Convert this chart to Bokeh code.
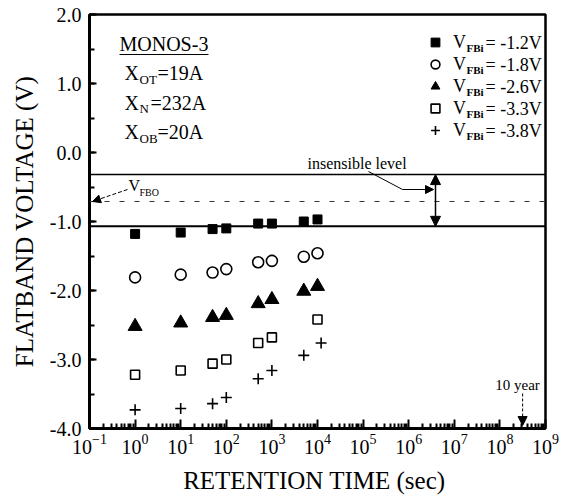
from bokeh.plotting import figure
from bokeh.models import (FixedTicker, LogTickFormatter, NumeralTickFormatter,
                          Span, Label, Arrow, NormalHead, Legend, LegendItem)
from bokeh.embed import file_html
from bokeh.resources import INLINE

# ---------------- data ----------------
time_s = [1, 10, 50, 100, 500, 1000, 5000, 10000]
vfb_m12 = [-1.18, -1.16, -1.11, -1.10, -1.03, -1.03, -1.00, -0.97]
vfb_m18 = [-1.81, -1.77, -1.74, -1.69, -1.59, -1.57, -1.51, -1.46]
vfb_m26 = [-2.52, -2.47, -2.39, -2.36, -2.19, -2.13, -2.01, -1.94]
time_s_m33 = [1, 10, 50, 100, 500, 1000, 10000]
vfb_m33 = [-3.22, -3.16, -3.06, -3.00, -2.76, -2.68, -2.42]
time_s_m38 = [1, 10, 50, 100, 500, 1000, 5000, 12000]
vfb_m38 = [-3.73, -3.71, -3.64, -3.55, -3.28, -3.16, -2.94, -2.76]

legend_values = ["-1.2V", "-1.8V", "-2.6V", "-3.3V", "-3.8V"]
y_ticks = [-4, -3, -2, -1, 0, 1, 2]
y_minor = [-4, -3.5, -3, -2.5, -2, -1.5, -1, -0.5, 0, 0.5, 1, 1.5, 2]
x_decades = list(range(-1, 10))

insensible_upper = -0.32
vfbo_level = -0.71
insensible_lower = -1.07
ten_years_s = 3.15e8

# ---------------- geometry ----------------
W, H = 572, 497
FL, FR, FT, FB = 89, 545, 14, 428
FONT = "Liberation Serif"


def xd(px):
    return 10 ** (-1 + (px - FL) * 10.0 / (FR - FL))


def yd(py):
    return 2 - (py - FT) * 6.0 / (FB - FT)


p = figure(width=W, height=H, x_axis_type="log", x_range=(0.1, 1e9), y_range=(-4, 2),
           output_backend="svg", toolbar_location=None,
           min_border_left=FL, min_border_right=W - FR, min_border_top=FT,
           min_border_bottom=H - FB)
p.xgrid.visible = False
p.ygrid.visible = False
p.outline_line_color = "black"
p.outline_line_width = 2.5
p.background_fill_color = "white"
p.border_fill_color = "white"

# axes
p.xaxis.ticker = FixedTicker(ticks=[10.0 ** k for k in x_decades],
                             minor_ticks=[m * 10.0 ** k for k in x_decades[:-1] for m in range(2, 10)])
p.xaxis.formatter = LogTickFormatter()
p.xaxis.axis_label = "RETENTION TIME  (sec)"
p.yaxis.ticker = FixedTicker(ticks=y_ticks, minor_ticks=y_minor)
p.yaxis.formatter = NumeralTickFormatter(format="0.0")
p.yaxis.axis_label = "FLATBAND VOLTAGE (V)"

for ax in (p.xaxis[0], p.yaxis[0]):
    ax.axis_line_width = 3
    ax.axis_line_color = "black"
    ax.major_tick_out = 0
    ax.minor_tick_out = 0
    ax.major_tick_line_width = 2
    ax.minor_tick_line_width = 2
    ax.major_tick_line_color = "black"
    ax.minor_tick_line_color = "black"
    ax.major_label_text_font = FONT
    ax.major_label_text_color = "black"
    ax.axis_label_text_font = FONT
    ax.axis_label_text_font_size = "25px"
    ax.axis_label_text_font_style = "normal"
    ax.axis_label_text_color = "black"

p.xaxis.major_label_text_font_size = "20px"
p.yaxis.major_label_text_font_size = "20px"
p.xaxis.major_tick_in = 9
p.xaxis.minor_tick_in = 5
p.xaxis.major_label_standoff = 5
p.xaxis.axis_label_standoff = 10
p.yaxis.major_tick_in = 7
p.yaxis.minor_tick_in = 5
p.yaxis.major_label_standoff = 8
p.yaxis.axis_label_standoff = 9

# ---------------- reference levels ----------------
p.add_layout(Span(location=insensible_upper, dimension="width", line_color="black", line_width=1.5))
p.add_layout(Span(location=insensible_lower, dimension="width", line_color="black", line_width=2))
p.add_layout(Span(location=vfbo_level, dimension="width", line_color="#333333", line_width=1,
                  line_dash="5 10"))

# ---------------- data markers ----------------
r1 = p.scatter(time_s, vfb_m12, marker="square", size=9, fill_color="black", line_color="black")
r2 = p.scatter(time_s, vfb_m18, marker="circle", size=11, fill_color="white", line_color="black",
               line_width=1.6)
r3 = p.scatter(time_s, vfb_m26, marker="triangle", size=14, fill_color="black", line_color="black")
r4 = p.scatter(time_s_m33, vfb_m33, marker="square", size=9, fill_color="white", line_color="black",
               line_width=1.6)
r5 = p.scatter(time_s_m38, vfb_m38, marker="cross", size=11, line_color="black", line_width=1.6)

# ---------------- legend ----------------
rows = [r1, r2, r3, r4, r5]
legend = Legend(items=[LegendItem(label="V", renderers=[r]) for r in rows],
                location=(424 - FL, FB - (31 + 22 * 5)),
                glyph_width=22, glyph_height=22, label_height=22, label_width=10,
                label_standoff=7, spacing=0, padding=0, margin=0,
                border_line_alpha=0, background_fill_alpha=0,
                label_text_font=FONT, label_text_font_size="18px", label_text_color="black",
                label_text_baseline="middle")
p.add_layout(legend)

row_y = [42 + 22 * i for i in range(5)]
for py, val in zip(row_y, legend_values):
    p.add_layout(Label(x=xd(466), y=yd(py + 5), text="FBi", text_font=FONT, text_font_size="11px",
                       text_font_style="bold", text_color="black",
                       text_baseline="middle", text_align="left"))
    p.add_layout(Label(x=xd(485), y=yd(py), text="= " + val, text_font=FONT, text_font_size="18px",
                       text_color="black", text_baseline="middle", text_align="left"))


# ---------------- sample text block ----------------
def lab(px, py, text, size, **kw):
    p.add_layout(Label(x=xd(px), y=yd(py), text=text, text_font=FONT, text_font_size=size,
                       text_color="black", text_baseline="middle", text_align="left", **kw))


lab(119, 43, "MONOS-3", "20px")
p.line([xd(119), xd(208)], [yd(54), yd(54)], line_color="black", line_width=1.2)
for py, sub, rest, sx in [(72.5, "OT", "=19A", 157), (102, "N", "=232A", 150), (131.5, "OB", "=20A", 157)]:
    lab(124, py, "X", "20px")
    lab(139, py + 6, sub, "13px")
    lab(sx, py, rest, "20px")

# ---------------- annotations ----------------
lab(307, 163, "insensible  level", "16px")
p.line([xd(368), xd(402)], [yd(171), yd(189)], line_color="black", line_width=1)
p.add_layout(Arrow(x_start=xd(402), y_start=yd(189), x_end=xd(433), y_end=yd(189),
                   end=NormalHead(size=8, fill_color="black", line_color="black"),
                   line_color="black", line_width=1.2))
p.add_layout(Arrow(x_start=xd(435), y_start=insensible_upper, x_end=xd(435), y_end=insensible_lower,
                   start=NormalHead(size=10, fill_color="black", line_color="black"),
                   end=NormalHead(size=10, fill_color="black", line_color="black"),
                   line_color="black", line_width=1.5))

lab(128, 185, "V", "16px")
lab(139, 192, "FBO", "10px")
p.add_layout(Arrow(x_start=xd(127), y_start=yd(189), x_end=xd(92), y_end=vfbo_level,
                   end=NormalHead(size=8, fill_color="black", line_color="black"),
                   line_color="black", line_width=1, line_dash="4 2"))

p.add_layout(Label(x=xd(517), y=yd(384), text="10 year", text_font=FONT, text_font_size="15px",
                   text_color="black", text_baseline="middle", text_align="center"))
p.add_layout(Arrow(x_start=ten_years_s, y_start=yd(393), x_end=ten_years_s, y_end=yd(425),
                   end=NormalHead(size=9, fill_color="black", line_color="black"),
                   line_color="black", line_width=1, line_dash="3 2"))

open("out.html", "w").write(file_html(p, INLINE))
